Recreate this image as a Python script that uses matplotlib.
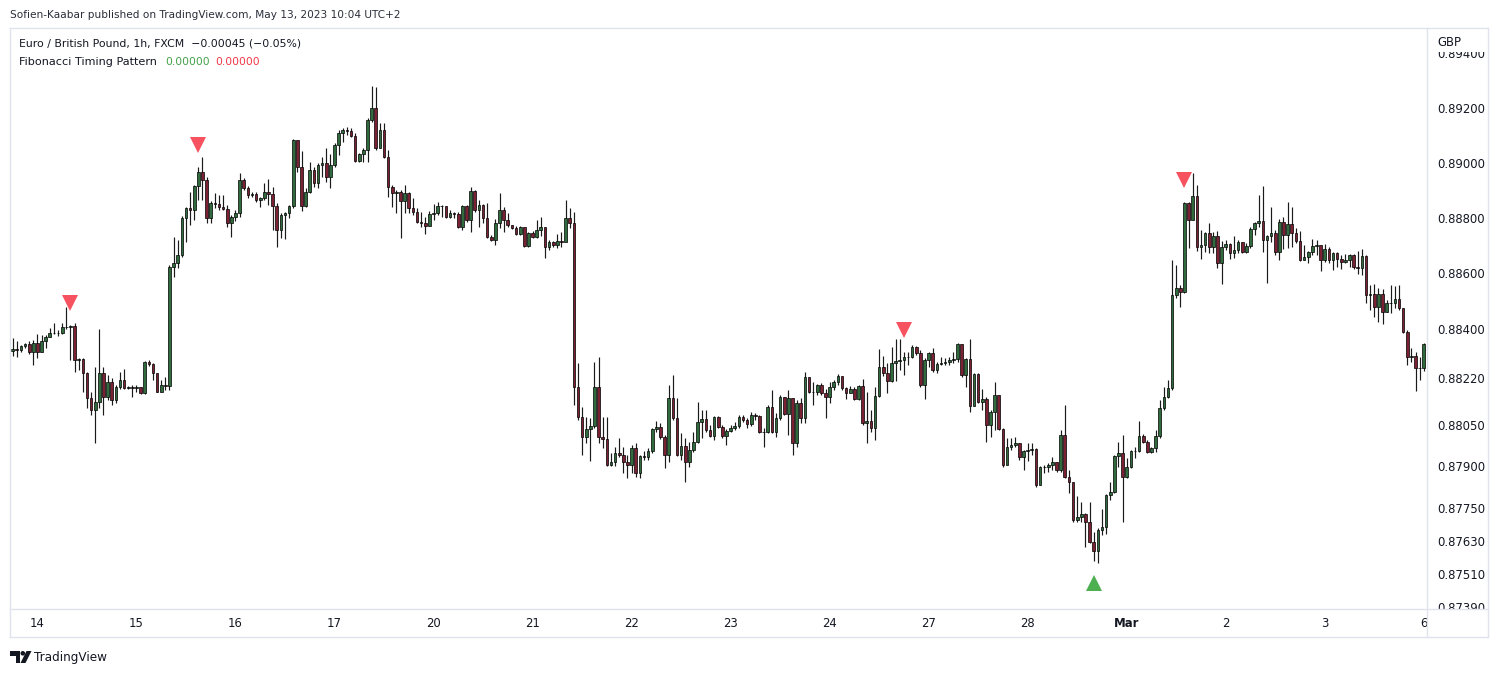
import numpy as np
import pandas as pd
import matplotlib
matplotlib.use("Agg")
import matplotlib.pyplot as plt
from matplotlib.transforms import offset_copy
from matplotlib.patches import Rectangle, Polygon, Ellipse
from matplotlib.lines import Line2D

plt.rcParams['font.family'] = ['DejaVu Sans']

# ---------------- data (prices in units of 1e-5, EUR/GBP 1h FXCM) ----------------
first_open_pts = 88319
close_pts = [
    88326, 88323, 88337, 88344, 88316, 88348, 88316, 88355, 88370, 88384,
    88384, 88384, 88406, 88406, 88409, 88286, 88290, 88239, 88148, 88105,
    88134, 88239, 88152, 88207, 88141, 88188, 88214, 88185, 88188, 88185,
    88188, 88166, 88279, 88272, 88239, 88170, 88196, 88192, 88624, 88638,
    88667, 88801, 88837, 88830, 88917, 88968, 88939, 88801, 88856, 88852,
    88841, 88834, 88783, 88805, 88819, 88939, 88910, 88885, 88888, 88867,
    88874, 88896, 88888, 88845, 88758, 88812, 88819, 88845, 89084, 88986,
    88845, 88896, 88975, 88928, 88993, 89001, 88950, 88993, 89066, 89109,
    89120, 89116, 89098, 89008, 89034, 89048, 89157, 89200, 89055, 89120,
    89023, 88914, 88892, 88896, 88863, 88892, 88837, 88823, 88787, 88783,
    88772, 88816, 88819, 88845, 88845, 88805, 88819, 88816, 88769, 88845,
    88794, 88899, 88830, 88848, 88801, 88733, 88722, 88783, 88830, 88794,
    88776, 88765, 88743, 88769, 88700, 88747, 88733, 88758, 88769, 88697,
    88715, 88704, 88718, 88715, 88801, 88783, 88188, 88080, 88007, 88036,
    88047, 88188, 88007, 88000, 87906, 87917, 87949, 87942, 87917, 87906,
    87967, 87876, 87938, 87935, 87956, 88036, 88043, 88007, 87942, 88148,
    88076, 87942, 87974, 87917, 87960, 87989, 88062, 88073, 88032, 88011,
    88080, 88043, 88011, 88029, 88040, 88047, 88080, 88069, 88054, 88087,
    88083, 88025, 88025, 88116, 88025, 88076, 88152, 88090, 88148, 87985,
    88130, 88076, 88225, 88170, 88170, 88196, 88166, 88152, 88188, 88207,
    88228, 88185, 88166, 88181, 88144, 88192, 88058, 88065, 88040, 88155,
    88261, 88239, 88210, 88275, 88282, 88286, 88297, 88297, 88333, 88312,
    88196, 88286, 88312, 88250, 88272, 88275, 88279, 88286, 88290, 88344,
    88232, 88290, 88119, 88236, 88134, 88144, 88051, 88098, 88159, 88036,
    87906, 87971, 87978, 87985, 87935, 87956, 87960, 87964, 87833, 87898,
    87898, 87906, 87917, 87887, 88014, 87862, 87844, 87706, 87717, 87728,
    87699, 87626, 87594, 87670, 87681, 87797, 87808, 87938, 87949, 87862,
    87898, 87956, 87956, 88011, 87989, 87953, 87967, 88011, 88112, 88152,
    88185, 88522, 88547, 88533, 88856, 88794, 88881, 88697, 88704, 88747,
    88697, 88736, 88638, 88697, 88707, 88675, 88685, 88715, 88678, 88700,
    88761, 88783, 88790, 88722, 88736, 88747, 88678, 88787, 88740, 88780,
    88747, 88718, 88649, 88660, 88678, 88700, 88704, 88649, 88689, 88649,
    88675, 88653, 88642, 88649, 88667, 88624, 88620, 88664, 88522, 88525,
    88479, 88525, 88461, 88493, 88493, 88508, 88475, 88388, 88297, 88301,
    88257, 88257, 88344,
]
high_pts = [
    88366, 88355, 88341, 88348, 88355, 88359, 88380, 88377, 88377, 88402,
    88420, 88395, 88420, 88479, 88413, 88420, 88294, 88294, 88243, 88170,
    88261, 88398, 88261, 88232, 88221, 88196, 88243, 88254, 88192, 88196,
    88196, 88188, 88282, 88286, 88275, 88239, 88214, 88225, 88631, 88733,
    88722, 88808, 88841, 88896, 88921, 88986, 89023, 88950, 88863, 88892,
    88885, 88885, 88848, 88812, 88830, 88964, 88946, 88917, 88896, 88896,
    88877, 88928, 88942, 88914, 88856, 88819, 88823, 88848, 89088, 89080,
    89044, 88910, 89005, 88986, 89001, 89023, 89055, 89034, 89073, 89120,
    89127, 89131, 89127, 89109, 89037, 89055, 89164, 89280, 89277, 89146,
    89146, 89048, 88921, 88903, 88903, 88921, 88896, 88874, 88837, 88823,
    88805, 88826, 88852, 88859, 88848, 88841, 88830, 88823, 88823, 88848,
    88848, 88914, 88903, 88867, 88852, 88856, 88740, 88798, 88892, 88841,
    88819, 88776, 88772, 88772, 88769, 88751, 88754, 88794, 88805, 88765,
    88722, 88718, 88743, 88751, 88867, 88837, 88823, 88275, 88116, 88080,
    88076, 88279, 88297, 88080, 88080, 87949, 87971, 88003, 87971, 87942,
    87978, 87985, 87942, 87956, 87967, 88040, 88065, 88058, 88014, 88196,
    88232, 88148, 88021, 88003, 87989, 88025, 88134, 88105, 88105, 88051,
    88083, 88083, 88051, 88036, 88051, 88062, 88087, 88087, 88076, 88098,
    88094, 88087, 88040, 88123, 88177, 88094, 88159, 88152, 88177, 88141,
    88141, 88148, 88243, 88225, 88207, 88199, 88203, 88181, 88207, 88214,
    88236, 88228, 88188, 88192, 88188, 88196, 88217, 88170, 88105, 88188,
    88326, 88301, 88275, 88333, 88362, 88362, 88316, 88316, 88341, 88337,
    88323, 88294, 88316, 88330, 88279, 88297, 88294, 88297, 88316, 88348,
    88330, 88294, 88362, 88239, 88239, 88181, 88152, 88105, 88207, 88159,
    88040, 88003, 88003, 88007, 87985, 87960, 87985, 87985, 87967, 87902,
    87906, 87913, 87935, 87917, 88032, 88123, 87887, 87844, 87793, 87771,
    87731, 87771, 87663, 87677, 87746, 87800, 87844, 87942, 87989, 88014,
    87931, 87960, 87971, 88065, 88018, 87996, 87971, 88032, 88141, 88188,
    88214, 88649, 88631, 88558, 88859, 88859, 88964, 88921, 88758, 88751,
    88783, 88751, 88754, 88718, 88722, 88711, 88736, 88722, 88715, 88711,
    88769, 88787, 88885, 88917, 88740, 88841, 88758, 88798, 88805, 88859,
    88841, 88765, 88754, 88704, 88682, 88725, 88722, 88704, 88707, 88697,
    88678, 88678, 88667, 88671, 88671, 88671, 88682, 88689, 88667, 88558,
    88562, 88547, 88543, 88504, 88558, 88554, 88558, 88475, 88395, 88330,
    88316, 88297, 88348,
]
low_pts = [
    88301, 88298, 88316, 88330, 88308, 88268, 88294, 88316, 88330, 88370,
    88380, 88373, 88380, 88398, 88286, 88243, 88250, 88170, 88112, 88087,
    87985, 88112, 88087, 88141, 88123, 88130, 88181, 88181, 88181, 88152,
    88170, 88162, 88162, 88265, 88214, 88170, 88170, 88177, 88177, 88587,
    88620, 88660, 88715, 88776, 88794, 88867, 88867, 88783, 88783, 88837,
    88830, 88830, 88767, 88733, 88790, 88805, 88903, 88874, 88877, 88859,
    88841, 88867, 88848, 88758, 88697, 88729, 88725, 88801, 88837, 88968,
    88826, 88841, 88892, 88914, 88910, 88950, 88932, 88910, 88986, 89030,
    89077, 89102, 89095, 89005, 89005, 89005, 89005, 89149, 89048, 89055,
    89019, 88877, 88841, 88819, 88729, 88819, 88819, 88812, 88783, 88767,
    88743, 88787, 88794, 88812, 88805, 88801, 88801, 88801, 88765, 88758,
    88787, 88751, 88823, 88769, 88783, 88729, 88718, 88704, 88765, 88751,
    88769, 88761, 88740, 88740, 88697, 88697, 88729, 88729, 88736, 88656,
    88685, 88697, 88693, 88697, 88715, 88765, 88123, 88069, 87942, 87985,
    87920, 88040, 87985, 87967, 87902, 87902, 87902, 87935, 87876, 87858,
    87876, 87862, 87858, 87924, 87924, 87949, 88025, 88000, 87895, 87917,
    88069, 87938, 87924, 87844, 87898, 87953, 87985, 88003, 88025, 88007,
    87996, 88040, 88003, 87978, 88025, 88032, 88040, 88062, 88040, 88047,
    88069, 88021, 87971, 88021, 88021, 88007, 88069, 88087, 88014, 87942,
    87971, 88058, 88058, 88166, 88123, 88159, 88159, 88076, 88130, 88177,
    88196, 88177, 88144, 88166, 88141, 88141, 88051, 87985, 88025, 87996,
    88152, 88228, 88166, 88207, 88210, 88250, 88232, 88268, 88294, 88305,
    88188, 88144, 88261, 88243, 88239, 88268, 88268, 88268, 88275, 88279,
    88225, 88188, 88098, 88119, 88130, 88105, 87989, 88007, 88032, 88032,
    87898, 87906, 87960, 87971, 87924, 87887, 87920, 87942, 87826, 87833,
    87876, 87880, 87887, 87880, 87880, 87858, 87804, 87699, 87699, 87699,
    87608, 87622, 87557, 87550, 87652, 87655, 87779, 87804, 87898, 87699,
    87858, 87895, 87931, 87953, 87985, 87949, 87949, 87953, 88003, 88105,
    88148, 88177, 88511, 88479, 88529, 88693, 88794, 88682, 88653, 88678,
    88675, 88675, 88620, 88562, 88685, 88653, 88656, 88675, 88675, 88675,
    88693, 88740, 88769, 88678, 88565, 88715, 88667, 88649, 88689, 88693,
    88697, 88711, 88645, 88649, 88638, 88667, 88667, 88609, 88642, 88638,
    88613, 88624, 88616, 88638, 88624, 88616, 88598, 88594, 88493, 88468,
    88442, 88424, 88417, 88461, 88457, 88475, 88468, 88384, 88268, 88279,
    88174, 88214, 88246,
]
sell_signal_bars = [14, 45, 216, 284]   # red down triangles (above bar)
buy_signal_bars = [262]                 # green up triangle (below bar)
price_ticks = [0.89400, 0.89200, 0.89000, 0.88800, 0.88600, 0.88400, 0.88220,
               0.88050, 0.87900, 0.87750, 0.87630, 0.87510, 0.87390]
start_time = "2023-02-13 18:00"
end_time = "2023-03-06 00:00"

header_text = "Sofien-Kaabar published on TradingView.com, May 13, 2023 10:04 UTC+2"
legend_title = "Euro / British Pound, 1h, FXCM  \u22120.00045 (\u22120.05%)"
indicator_name = "Fibonacci Timing Pattern"
indicator_values = ["0.00000", "0.00000"]

# ---------------- preparation ----------------
close = np.array(close_pts) / 1e5
high = np.array(high_pts) / 1e5
low = np.array(low_pts) / 1e5
n = len(close)
open_ = np.concatenate([[first_open_pts / 1e5], close[:-1]])
high = np.maximum(high, np.maximum(open_, close))
low = np.minimum(low, np.minimum(open_, close))

times = pd.date_range(start_time, end_time, freq="h")
times = times[times.dayofweek < 5][:n]
x = np.arange(n)

W, H = 1500, 675
fig = plt.figure(figsize=(W / 100, H / 100), dpi=100)
fig.patch.set_facecolor("white")
renderer = fig.canvas.get_renderer()


def fx(px):
    return px / W


def fy(py):
    return 1 - py / H


TXT = "#131722"
FRAME = "#e0e3eb"

ax = fig.add_axes([fx(10), fy(609), (1427 - 10) / W, (609 - 28) / H])
ax.set_facecolor("white")
for s in ax.spines.values():
    s.set_visible(False)

up = close >= open_
body_col = np.where(up, "#2f6b3c", "#7a2234")
ax.vlines(x, low, high, colors="#1a1a1a", linewidth=0.85, zorder=2)
body_h = np.maximum(np.abs(close - open_), 0.000004)
ax.bar(x, body_h, bottom=np.minimum(open_, close), width=0.64,
       color=body_col, edgecolor="#000000", linewidth=0.5, zorder=3)

tr_up = offset_copy(ax.transData, fig=fig, x=0, y=21.5, units="dots")
tr_dn = offset_copy(ax.transData, fig=fig, x=0, y=-21.5, units="dots")
ax.plot(sell_signal_bars, high[sell_signal_bars], linestyle="none", marker="v",
        ms=12, color="#f7525f", mew=0, transform=tr_up, zorder=5)
ax.plot(buy_signal_bars, low[buy_signal_bars], linestyle="none", marker="^",
        ms=12, color="#4caf50", mew=0, transform=tr_dn, zorder=5)

ax.set_xlim(-0.65, n - 1 + 0.78)
ax.set_ylim(0.87383, 0.89490)

# tick label font size fitted to reference width
probe = fig.text(0, 0, "0.89200", fontsize=10)
tick_fs = 10 * 48 / probe.get_window_extent(renderer=renderer).width
probe.remove()

ax.yaxis.tick_right()
ax.set_yticks(price_ticks)
ax.set_yticklabels([f"{v:.5f}" for v in price_ticks])
ax.tick_params(axis="y", length=0, pad=7.2, labelsize=tick_fs, labelcolor=TXT)

tick_idx = [i for i, t in enumerate(times) if t.hour == 0]
tick_lab = [t.strftime("%b") if t.day == 1 else str(t.day) for t in times[tick_idx]]
ax.set_xticks(tick_idx)
ax.set_xticklabels(tick_lab)
ax.tick_params(axis="x", length=0, pad=6.0, labelsize=tick_fs, labelcolor=TXT)
for lab in ax.get_xticklabels():
    if not lab.get_text().isdigit():
        lab.set_fontweight("bold")

# cover price-axis area outside the plot band
fig.add_artist(Rectangle((fx(1428), fy(52)), 59 / W, 24 / H, transform=fig.transFigure,
                         facecolor="white", edgecolor="none", zorder=5))
fig.add_artist(Rectangle((fx(1428), fy(636)), 59 / W, 27 / H, transform=fig.transFigure,
                         facecolor="white", edgecolor="none", zorder=5))

# frame lines
for (x0, y0, x1, y1) in [(10, 28, 1488, 28), (10, 637, 1488, 637), (10, 28, 10, 637),
                         (1488, 28, 1488, 637), (1427, 28, 1427, 637), (10, 609, 1488, 609)]:
    fig.add_artist(Line2D([fx(x0), fx(x1)], [fy(y0), fy(y1)], transform=fig.transFigure,
                          color=FRAME, linewidth=1.0, zorder=6))


def fitted_text(px, py, s, target_w, color=TXT, **kw):
    t = fig.text(fx(px), fy(py), s, fontsize=10, color=color, ha="left", va="center",
                 zorder=7, **kw)
    w = t.get_window_extent(renderer=renderer).width
    t.set_fontsize(10 * target_w / w)
    return t


fitted_text(10, 15, header_text, 386, color="#2a2e39")
fitted_text(19, 44, legend_title, 279)
fitted_text(19, 62, indicator_name, 138)
fitted_text(165, 62, indicator_values[0], 44, color="#43a047")
fitted_text(215, 62, indicator_values[1], 44, color="#f23645")
fig.text(fx(1437), fy(42), "GBP", fontsize=tick_fs, color=TXT, ha="left", va="center", zorder=7)

# TradingView logo + wordmark
logo_col = "#131722"
fig.add_artist(Polygon([(fx(10), fy(651)), (fx(19.5), fy(651)), (fx(19.5), fy(663)),
                        (fx(15.5), fy(663)), (fx(15.5), fy(655.5)), (fx(10), fy(655.5))],
                       closed=True, transform=fig.transFigure, facecolor=logo_col,
                       edgecolor="none", zorder=7))
fig.add_artist(Ellipse((fx(22.8), fy(653.3)), 4.6 / W, 4.6 / H, transform=fig.transFigure,
                       facecolor=logo_col, edgecolor="none", zorder=7))
fig.add_artist(Polygon([(fx(26.5), fy(651)), (fx(31.5), fy(651)), (fx(25.5), fy(663)),
                        (fx(20.5), fy(663))], closed=True, transform=fig.transFigure,
                       facecolor=logo_col, edgecolor="none", zorder=7))
fitted_text(34, 657, "TradingView", 73)

fig.savefig("out.png", dpi=100, facecolor="white")
